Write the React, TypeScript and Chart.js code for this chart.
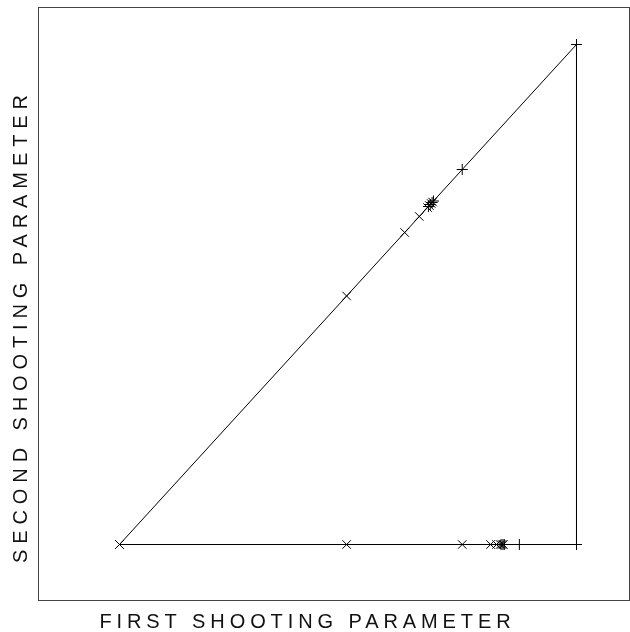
import React, { useEffect, useRef } from "react";
import { Chart, registerables } from "chart.js";

Chart.register(...registerables);

// Triangle path (vertices in parameter space)
const pathX = [0, 1, 1, 0];
const pathY = [0, 1, 0, 0];

// Markers along the diagonal (x = y)
const diagCrossT = [0, 0.497, 0.624, 0.656, 0.674, 0.678, 0.682, 0.685];
const diagPlusT = [0.676, 0.68, 0.684, 0.687, 0.75, 1];

// Markers along the bottom edge (y = 0)
const bottomCrossX = [0, 0.497, 0.75, 0.812, 0.825, 0.833, 0.837, 0.84];
const bottomPlusX = [0.835, 0.839, 0.842, 0.875, 1];

const xTitle = "FIRST SHOOTING PARAMETER";
const yTitle = "SECOND SHOOTING PARAMETER";

const titlePlugin = {
  id: "titles",
  afterDraw(chart: any) {
    const ctx = chart.ctx as CanvasRenderingContext2D;
    ctx.save();
    ctx.fillStyle = "#111";
    ctx.font = '20px "Liberation Sans", Arial, sans-serif';
    ctx.textAlign = "center";
    ctx.textBaseline = "alphabetic";
    (ctx as any).letterSpacing = "4.9px";
    ctx.fillText(xTitle, 305 + 2.45, 628);
    ctx.translate(26.5, 330);
    ctx.rotate(-Math.PI / 2);
    (ctx as any).letterSpacing = "5.9px";
    ctx.fillText(yTitle, 2.95 + 1, 0);
    ctx.restore();
  },
};

const boxPlugin = {
  id: "box",
  afterDraw(chart: any) {
    const { ctx, chartArea } = chart;
    ctx.save();
    ctx.strokeStyle = "#444";
    ctx.lineWidth = 1;
    const l = Math.round(chartArea.left) + 0.5;
    const t = Math.round(chartArea.top) + 0.5;
    const b = Math.round(chartArea.bottom) - 0.5;
    const r = Math.round(chartArea.right) - 0.5;
    ctx.strokeRect(l, t, r - l, b - t);
    ctx.restore();
  },
};

export default function App() {
  const ref = useRef<HTMLCanvasElement>(null);
  useEffect(() => {
    document.body.style.margin = "0";
    const canvas = ref.current!;
    const chart = new Chart(canvas, {
      type: "scatter",
      data: {
        datasets: [
          {
            data: pathX.map((x, i) => ({ x, y: pathY[i] })),
            showLine: true,
            borderColor: "#000",
            borderWidth: 1,
            pointRadius: 0,
            tension: 0,
          },
          {
            data: diagCrossT
              .map((t) => ({ x: t, y: t }))
              .concat(bottomCrossX.map((x) => ({ x, y: 0 }))),
            pointStyle: "crossRot",
            pointRadius: 6,
            borderColor: "#000",
            borderWidth: 1,
            showLine: false,
          },
          {
            data: diagPlusT
              .map((t) => ({ x: t, y: t }))
              .concat(bottomPlusX.map((x) => ({ x, y: 0 }))),
            pointStyle: "cross",
            pointRadius: 5.5,
            borderColor: "#000",
            borderWidth: 1,
            showLine: false,
          },
        ],
      },
      options: {
        animation: false,
        responsive: false,
        maintainAspectRatio: false,
        layout: { autoPadding: false, padding: { left: 38, top: 7, right: 0, bottom: 31 } },
        plugins: { legend: { display: false }, tooltip: { enabled: false } },
        scales: {
          x: { type: "linear", display: false, min: -0.178337, max: 1.117068 },
          y: { type: "linear", display: false, min: -0.113, max: 1.075 },
        },
      },
      plugins: [boxPlugin, titlePlugin],
    });
    return () => chart.destroy();
  }, []);
  return (
    <div style={{ position: "absolute", left: 0, top: 0, width: 630, height: 632 }}>
      <canvas ref={ref} width={630} height={632} style={{ display: "block" }} />
    </div>
  );
}
